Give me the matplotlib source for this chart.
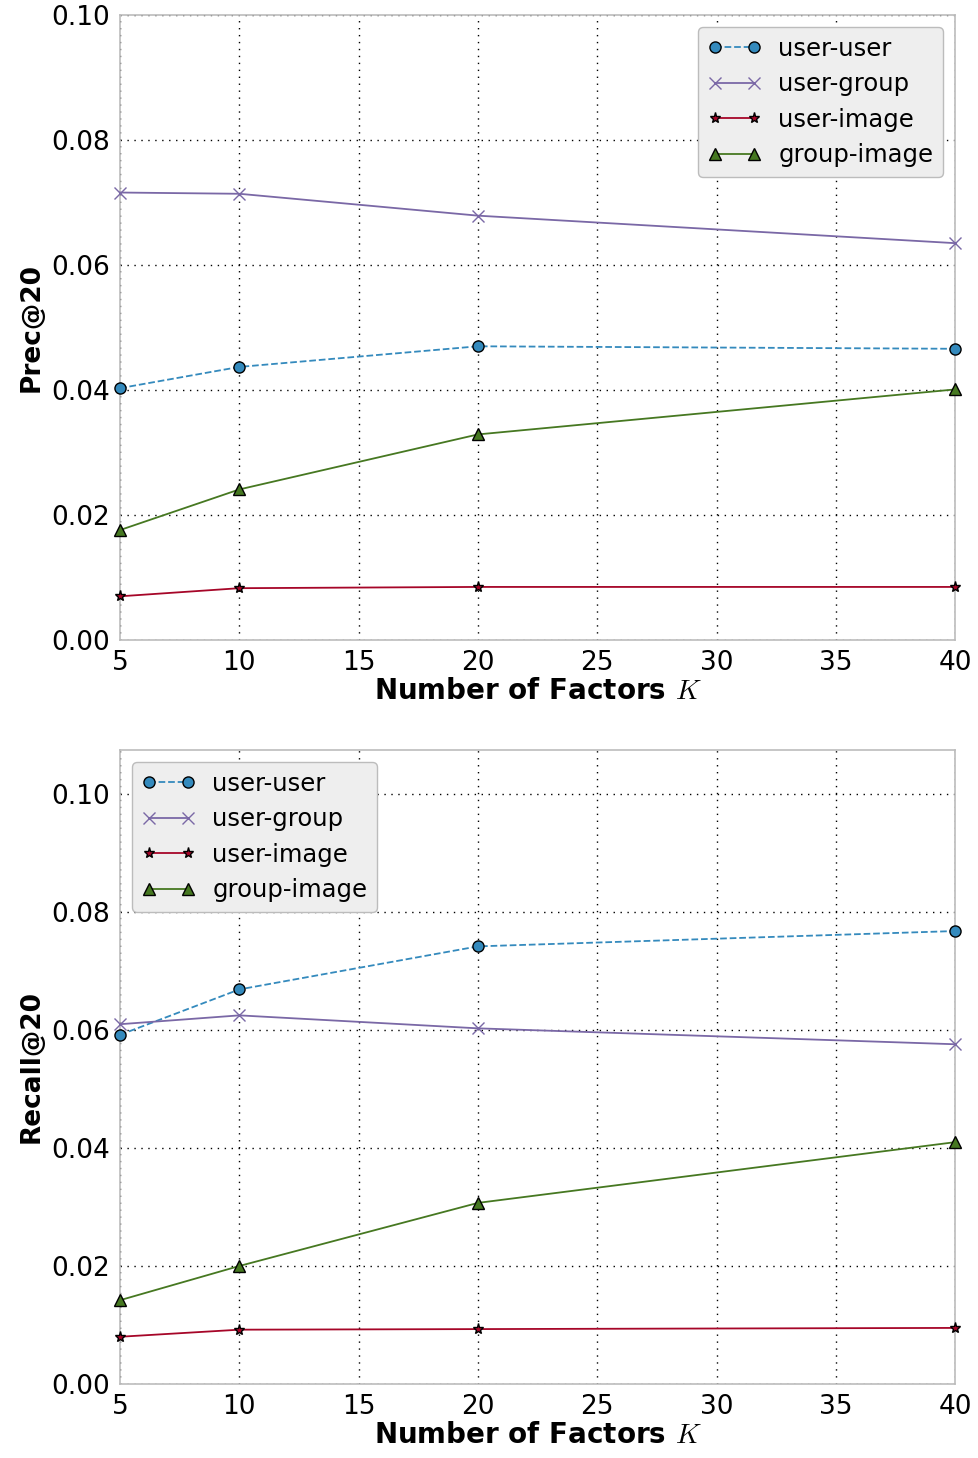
import matplotlib
matplotlib.use('Agg')
import matplotlib.pyplot as plt

plt.rcParams['mathtext.fontset'] = 'cm'

factors = [5, 10, 20, 40]
labels = ['user-user', 'user-group', 'user-image', 'group-image']

prec_uu = [0.0403, 0.0437, 0.0470, 0.0466]
prec_ug = [0.0716, 0.0714, 0.0679, 0.0635]
prec_ui = [0.0070, 0.0083, 0.0085, 0.0085]
prec_gi = [0.0176, 0.0241, 0.0329, 0.0401]

rec_uu = [0.0592, 0.0669, 0.0742, 0.0768]
rec_ug = [0.0610, 0.0625, 0.0603, 0.0576]
rec_ui = [0.0080, 0.0092, 0.0093, 0.0095]
rec_gi = [0.0142, 0.0200, 0.0307, 0.0410]

colors = ['#348ABD', '#7A68A6', '#A60628', '#467821']
styles = [
    dict(linestyle='--', marker='o', markersize=8),
    dict(linestyle='-', marker='x', markersize=8, markeredgewidth=1),
    dict(linestyle='-', marker='*', markersize=8),
    dict(linestyle='-', marker='^', markersize=8),
]


def draw(ax, series, ylabel, ymax, legend_loc):
    for vals, lab, c, st in zip(series, labels, colors, styles):
        mec = c if st['marker'] == 'x' else 'black'
        ax.plot(factors, vals, color=c, label=lab, linewidth=1.3,
                markerfacecolor=c, markeredgecolor=mec, clip_on=False,
                zorder=3, **st)
    ax.set_xlim(5, 40)
    ax.set_ylim(0, ymax)
    ax.set_yticks([0.0, 0.02, 0.04, 0.06, 0.08, 0.10])
    ax.set_xticks(range(5, 45, 5))
    ax.grid(True, color='black', linestyle=(0, (1, 4)), linewidth=1)
    for s in ax.spines.values():
        s.set_color('#bcbcbc')
        s.set_linewidth(1.2)
    ax.tick_params(labelsize=19, length=0, pad=7)
    ax.set_xlabel(r'Number of Factors $K$', fontsize=20, fontweight='bold', labelpad=1)
    ax.set_ylabel(ylabel, fontsize=19, fontweight='bold', labelpad=5)
    leg = ax.legend(loc=legend_loc, fontsize=17.5, numpoints=2, fancybox=True,
                    handlelength=2.2, borderpad=0.4, labelspacing=0.47,
                    handletextpad=0.7)
    leg.get_frame().set_facecolor('#eeeeee')
    leg.get_frame().set_edgecolor('#bcbcbc')
    leg.get_frame().set_alpha(1)


fig = plt.figure(figsize=(9.79, 14.58), dpi=100)
ax1 = fig.add_axes([0.1226, 0.561, 0.853, 0.4287])
ax2 = fig.add_axes([0.1226, 0.0508, 0.853, 0.4348])

draw(ax1, [prec_uu, prec_ug, prec_ui, prec_gi], 'Prec@20', 0.10, 'upper right')
draw(ax2, [rec_uu, rec_ug, rec_ui, rec_gi], 'Recall@20', 0.1075, 'upper left')

fig.savefig('out.png', dpi=100)
